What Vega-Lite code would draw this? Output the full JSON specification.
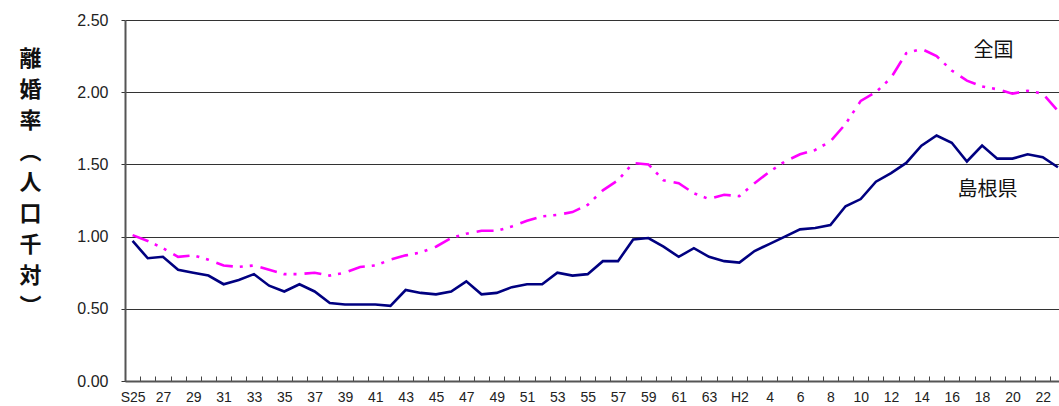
{
  "$schema": "https://vega.github.io/schema/vega-lite/v6.json",
  "width": 934,
  "height": 361,
  "autosize": {"type": "none"},
  "padding": {"left": 125, "top": 20, "right": 0, "bottom": 25},
  "background": "white",
  "config": {
    "view": {"stroke": null},
    "font": "Liberation Sans",
    "axisX": {
      "grid": false,
      "tickOffset": -7.585,
      "labelOffset": 7.585,
      "tickSize": -5,
      "tickColor": "#444",
      "tickWidth": 1,
      "labelPadding": 14,
      "domainColor": "#555",
      "domainWidth": 2,
      "labelFontSize": 14,
      "labelColor": "#222",
      "labelFont": "Liberation Sans",
      "labelOverlap": false,
      "labelFlush": false
    },
    "axisY": {
      "grid": true,
      "gridColor": "#333",
      "gridWidth": 1,
      "tickSize": 4,
      "tickColor": "#333",
      "labelPadding": 13,
      "domainColor": "#555",
      "domainWidth": 2,
      "labelFontSize": 16,
      "labelColor": "#222",
      "labelFont": "Liberation Sans",
      "labelOverlap": false,
      "titleAngle": 0,
      "titleFont": "Noto Sans CJK JP",
      "titleFontSize": 22,
      "titleFontWeight": "bold",
      "titleLineHeight": 31,
      "titleX": -95,
      "titleY": 28,
      "titleAlign": "center",
      "titleBaseline": "top",
      "titleColor": "#111"
    }
  },
  "datasets": {
    "rates": [
      {"year":1950,"series":"全国","value":1.01},{"year":1951,"series":"全国","value":0.97},{"year":1952,"series":"全国","value":0.92},{"year":1953,"series":"全国","value":0.86},{"year":1954,"series":"全国","value":0.87},{"year":1955,"series":"全国","value":0.84},{"year":1956,"series":"全国","value":0.80},{"year":1957,"series":"全国","value":0.79},{"year":1958,"series":"全国","value":0.80},{"year":1959,"series":"全国","value":0.77},
      {"year":1960,"series":"全国","value":0.74},{"year":1961,"series":"全国","value":0.74},{"year":1962,"series":"全国","value":0.75},{"year":1963,"series":"全国","value":0.73},{"year":1964,"series":"全国","value":0.75},{"year":1965,"series":"全国","value":0.79},{"year":1966,"series":"全国","value":0.80},{"year":1967,"series":"全国","value":0.84},{"year":1968,"series":"全国","value":0.87},{"year":1969,"series":"全国","value":0.89},
      {"year":1970,"series":"全国","value":0.93},{"year":1971,"series":"全国","value":0.99},{"year":1972,"series":"全国","value":1.02},{"year":1973,"series":"全国","value":1.04},{"year":1974,"series":"全国","value":1.04},{"year":1975,"series":"全国","value":1.07},{"year":1976,"series":"全国","value":1.11},{"year":1977,"series":"全国","value":1.14},{"year":1978,"series":"全国","value":1.15},{"year":1979,"series":"全国","value":1.17},
      {"year":1980,"series":"全国","value":1.22},{"year":1981,"series":"全国","value":1.32},{"year":1982,"series":"全国","value":1.39},{"year":1983,"series":"全国","value":1.51},{"year":1984,"series":"全国","value":1.50},{"year":1985,"series":"全国","value":1.39},{"year":1986,"series":"全国","value":1.37},{"year":1987,"series":"全国","value":1.30},{"year":1988,"series":"全国","value":1.26},{"year":1989,"series":"全国","value":1.29},
      {"year":1990,"series":"全国","value":1.28},{"year":1991,"series":"全国","value":1.37},{"year":1992,"series":"全国","value":1.45},{"year":1993,"series":"全国","value":1.52},{"year":1994,"series":"全国","value":1.57},{"year":1995,"series":"全国","value":1.60},{"year":1996,"series":"全国","value":1.66},{"year":1997,"series":"全国","value":1.78},{"year":1998,"series":"全国","value":1.94},{"year":1999,"series":"全国","value":2.00},
      {"year":2000,"series":"全国","value":2.10},{"year":2001,"series":"全国","value":2.27},{"year":2002,"series":"全国","value":2.30},{"year":2003,"series":"全国","value":2.25},{"year":2004,"series":"全国","value":2.15},{"year":2005,"series":"全国","value":2.08},{"year":2006,"series":"全国","value":2.04},{"year":2007,"series":"全国","value":2.02},{"year":2008,"series":"全国","value":1.99},{"year":2009,"series":"全国","value":2.01},
      {"year":2010,"series":"全国","value":1.99},{"year":2011,"series":"全国","value":1.87},
      {"year":1950,"series":"島根県","value":0.97},{"year":1951,"series":"島根県","value":0.85},{"year":1952,"series":"島根県","value":0.86},{"year":1953,"series":"島根県","value":0.77},{"year":1954,"series":"島根県","value":0.75},{"year":1955,"series":"島根県","value":0.73},{"year":1956,"series":"島根県","value":0.67},{"year":1957,"series":"島根県","value":0.70},{"year":1958,"series":"島根県","value":0.74},{"year":1959,"series":"島根県","value":0.66},
      {"year":1960,"series":"島根県","value":0.62},{"year":1961,"series":"島根県","value":0.67},{"year":1962,"series":"島根県","value":0.62},{"year":1963,"series":"島根県","value":0.54},{"year":1964,"series":"島根県","value":0.53},{"year":1965,"series":"島根県","value":0.53},{"year":1966,"series":"島根県","value":0.53},{"year":1967,"series":"島根県","value":0.52},{"year":1968,"series":"島根県","value":0.63},{"year":1969,"series":"島根県","value":0.61},
      {"year":1970,"series":"島根県","value":0.60},{"year":1971,"series":"島根県","value":0.62},{"year":1972,"series":"島根県","value":0.69},{"year":1973,"series":"島根県","value":0.60},{"year":1974,"series":"島根県","value":0.61},{"year":1975,"series":"島根県","value":0.65},{"year":1976,"series":"島根県","value":0.67},{"year":1977,"series":"島根県","value":0.67},{"year":1978,"series":"島根県","value":0.75},{"year":1979,"series":"島根県","value":0.73},
      {"year":1980,"series":"島根県","value":0.74},{"year":1981,"series":"島根県","value":0.83},{"year":1982,"series":"島根県","value":0.83},{"year":1983,"series":"島根県","value":0.98},{"year":1984,"series":"島根県","value":0.99},{"year":1985,"series":"島根県","value":0.93},{"year":1986,"series":"島根県","value":0.86},{"year":1987,"series":"島根県","value":0.92},{"year":1988,"series":"島根県","value":0.86},{"year":1989,"series":"島根県","value":0.83},
      {"year":1990,"series":"島根県","value":0.82},{"year":1991,"series":"島根県","value":0.90},{"year":1992,"series":"島根県","value":0.95},{"year":1993,"series":"島根県","value":1.00},{"year":1994,"series":"島根県","value":1.05},{"year":1995,"series":"島根県","value":1.06},{"year":1996,"series":"島根県","value":1.08},{"year":1997,"series":"島根県","value":1.21},{"year":1998,"series":"島根県","value":1.26},{"year":1999,"series":"島根県","value":1.38},
      {"year":2000,"series":"島根県","value":1.44},{"year":2001,"series":"島根県","value":1.51},{"year":2002,"series":"島根県","value":1.63},{"year":2003,"series":"島根県","value":1.70},{"year":2004,"series":"島根県","value":1.65},{"year":2005,"series":"島根県","value":1.52},{"year":2006,"series":"島根県","value":1.63},{"year":2007,"series":"島根県","value":1.54},{"year":2008,"series":"島根県","value":1.54},{"year":2009,"series":"島根県","value":1.57},
      {"year":2010,"series":"島根県","value":1.55},{"year":2011,"series":"島根県","value":1.48}
    ]
  },
  "layer": [
    {
      "data": {"name": "rates"},
      "transform": [{"filter": "datum.series == '全国'"}],
      "mark": {"type": "line", "color": "#FF00FF", "strokeWidth": 2.6, "strokeDash": [17, 7, 3, 7, 3, 8]},
      "encoding": {
        "x": {
          "field": "year",
          "type": "quantitative",
          "scale": {"domain": [1949.5, 2011.07], "nice": false, "zero": false},
          "axis": {
            "values": [1950,1951,1952,1953,1954,1955,1956,1957,1958,1959,1960,1961,1962,1963,1964,1965,1966,1967,1968,1969,1970,1971,1972,1973,1974,1975,1976,1977,1978,1979,1980,1981,1982,1983,1984,1985,1986,1987,1988,1989,1990,1991,1992,1993,1994,1995,1996,1997,1998,1999,2000,2001,2002,2003,2004,2005,2006,2007,2008,2009,2010,2011],
            "labelExpr": "datum.value == 1950 ? 'S25' : datum.value == 1990 ? 'H2' : datum.value % 2 == 1 ? '' : datum.value < 1989 ? '' + (datum.value - 1925) : '' + (datum.value - 1988)",
            "title": null,
            "labelOverlap": false
          }
        },
        "y": {
          "field": "value",
          "type": "quantitative",
          "scale": {"domain": [0, 2.5], "nice": false},
          "axis": {
            "values": [0, 0.5, 1, 1.5, 2, 2.5],
            "format": ".2f",
            "title": ["離", "婚", "率", "︵", "人", "口", "千", "対", "︶"]
          }
        }
      }
    },
    {
      "data": {"name": "rates"},
      "transform": [{"filter": "datum.series == '島根県'"}],
      "mark": {"type": "line", "color": "#000080", "strokeWidth": 2.6},
      "encoding": {
        "x": {
          "field": "year",
          "type": "quantitative",
          "axis": {
            "values": [1950,1951,1952,1953,1954,1955,1956,1957,1958,1959,1960,1961,1962,1963,1964,1965,1966,1967,1968,1969,1970,1971,1972,1973,1974,1975,1976,1977,1978,1979,1980,1981,1982,1983,1984,1985,1986,1987,1988,1989,1990,1991,1992,1993,1994,1995,1996,1997,1998,1999,2000,2001,2002,2003,2004,2005,2006,2007,2008,2009,2010,2011],
            "labelExpr": "datum.value == 1950 ? 'S25' : datum.value == 1990 ? 'H2' : datum.value % 2 == 1 ? '' : datum.value < 1989 ? '' + (datum.value - 1925) : '' + (datum.value - 1988)",
            "title": null,
            "labelOverlap": false
          }
        },
        "y": {
          "field": "value",
          "type": "quantitative",
          "axis": {
            "values": [0, 0.5, 1, 1.5, 2, 2.5],
            "format": ".2f",
            "title": ["離", "婚", "率", "︵", "人", "口", "千", "対", "︶"]
          }
        }
      }
    },
    {
      "data": {"values": [{}]},
      "mark": {"type": "text", "text": "全国", "font": "Noto Sans CJK JP", "fontSize": 20, "color": "#111", "align": "center", "baseline": "middle"},
      "encoding": {
        "x": {"datum": 2006.76, "type": "quantitative", "axis": {
            "values": [1950,1951,1952,1953,1954,1955,1956,1957,1958,1959,1960,1961,1962,1963,1964,1965,1966,1967,1968,1969,1970,1971,1972,1973,1974,1975,1976,1977,1978,1979,1980,1981,1982,1983,1984,1985,1986,1987,1988,1989,1990,1991,1992,1993,1994,1995,1996,1997,1998,1999,2000,2001,2002,2003,2004,2005,2006,2007,2008,2009,2010,2011],
            "labelExpr": "datum.value == 1950 ? 'S25' : datum.value == 1990 ? 'H2' : datum.value % 2 == 1 ? '' : datum.value < 1989 ? '' + (datum.value - 1925) : '' + (datum.value - 1988)",
            "title": null,
            "labelOverlap": false
          }},
        "y": {"datum": 2.285, "type": "quantitative", "axis": {
            "values": [0, 0.5, 1, 1.5, 2, 2.5],
            "format": ".2f",
            "title": ["離", "婚", "率", "︵", "人", "口", "千", "対", "︶"]
          }}
      }
    },
    {
      "data": {"values": [{}]},
      "mark": {"type": "text", "text": "島根県", "font": "Noto Sans CJK JP", "fontSize": 20, "color": "#111", "align": "center", "baseline": "middle"},
      "encoding": {
        "x": {"datum": 2006.36, "type": "quantitative", "axis": {
            "values": [1950,1951,1952,1953,1954,1955,1956,1957,1958,1959,1960,1961,1962,1963,1964,1965,1966,1967,1968,1969,1970,1971,1972,1973,1974,1975,1976,1977,1978,1979,1980,1981,1982,1983,1984,1985,1986,1987,1988,1989,1990,1991,1992,1993,1994,1995,1996,1997,1998,1999,2000,2001,2002,2003,2004,2005,2006,2007,2008,2009,2010,2011],
            "labelExpr": "datum.value == 1950 ? 'S25' : datum.value == 1990 ? 'H2' : datum.value % 2 == 1 ? '' : datum.value < 1989 ? '' + (datum.value - 1925) : '' + (datum.value - 1988)",
            "title": null,
            "labelOverlap": false
          }},
        "y": {"datum": 1.323, "type": "quantitative", "axis": {
            "values": [0, 0.5, 1, 1.5, 2, 2.5],
            "format": ".2f",
            "title": ["離", "婚", "率", "︵", "人", "口", "千", "対", "︶"]
          }}
      }
    }
  ]
}
